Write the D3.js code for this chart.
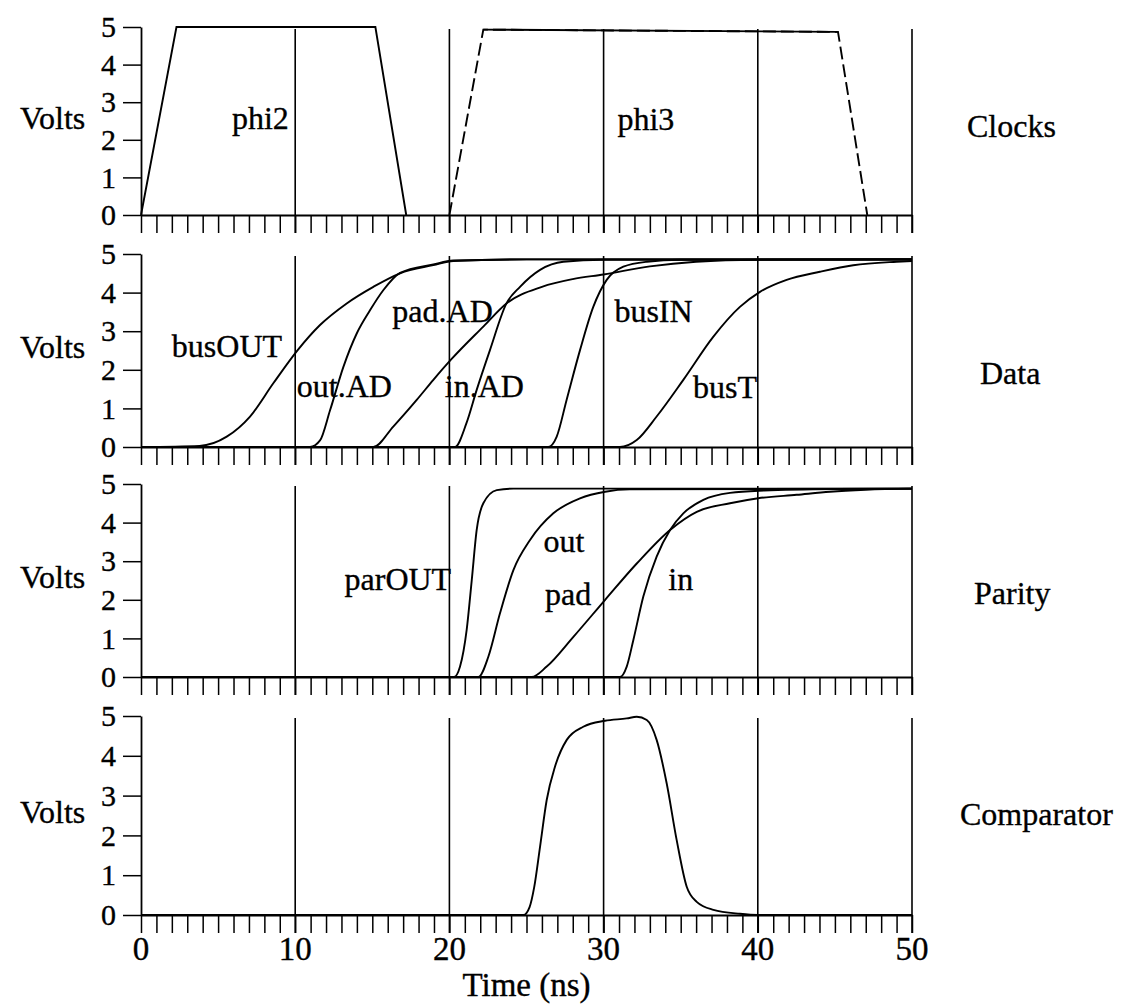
<!DOCTYPE html>
<html>
<head>
<meta charset="utf-8">
<script src="https://cdn.jsdelivr.net/npm/d3@7"></script>
<style>
  body { margin: 0; background: #fff; }
  svg text { font-family: "Liberation Serif", "Times New Roman", serif; fill: #000; stroke: #000; stroke-width: 0.35px; }
</style>
</head>
<body>
<div id="chart"></div>
<script>
// --------------------------------------
//  Data (time in ns, value in volts)
// --------------------------------------

const timeTicks = [0, 10, 20, 30, 40, 50];
const voltTicks = [0, 1, 2, 3, 4, 5];

// Clocks
const phi2 = [[0, 0], [2.3, 5], [15.2, 5], [17.2, 0]];
const phi3 = [[20, 0], [22.2, 4.93], [45.2, 4.87], [47.1, 0]];

// Data
const busOUT = [[0, 0], [3.8, 0.03], [5.56, 0.27], [7.07, 0.79], [8.58, 1.65], [10.16, 2.51], [11.61, 3.16],
  [13.34, 3.72], [15.07, 4.15], [16.8, 4.5], [18.96, 4.71], [20.25, 4.82], [25, 4.86], [50, 4.86]];
const outAD = [[0, 0], [10.96, 0], [11.61, 0.17], [12.26, 0.95], [13.12, 2.07], [13.99, 2.94], [14.85, 3.54],
  [15.71, 4.06], [16.8, 4.51], [18.96, 4.73], [20.25, 4.83], [25, 4.86], [50, 4.86]];
const padAD = [[0, 0], [15.07, 0], [16.36, 0.53], [17.88, 1.22], [18.96, 1.74], [20.19, 2.3], [22.2, 3.12],
  [23.7, 3.72], [26, 4.15], [28, 4.35], [30, 4.47], [33, 4.68], [36, 4.8], [40, 4.85], [50, 4.86]];
const inAD = [[0, 0], [20.36, 0], [21.1, 0.61], [21.77, 1.48], [22.63, 2.51], [23.7, 3.72], [24.58, 4.15],
  [25.88, 4.59], [27.39, 4.8], [30, 4.85], [50, 4.86]];
const busIN = [[0, 0], [26.41, 0], [26.96, 0.27], [27.6, 1.22], [28.47, 2.51], [29.33, 3.63], [30.2, 4.33],
  [31.28, 4.67], [32.8, 4.8], [35, 4.85], [50, 4.86]];
const busT = [[0, 0], [31.06, 0], [32.15, 0.18], [33.44, 0.79], [35.17, 1.74], [37.12, 2.86], [38.84, 3.63],
  [40.14, 4.02], [41.87, 4.33], [44.03, 4.54], [46.19, 4.71], [49, 4.8], [50, 4.82]];

// Parity
const parOUT = [[0, 0], [20.3, 0], [20.69, 0.27], [21.12, 1.22], [21.45, 2.51], [21.77, 3.81], [22.2, 4.5],
  [23.07, 4.84], [24.15, 4.88], [50, 4.88]];
const parOut = [[0, 0], [21.88, 0], [22.53, 0.53], [23.28, 1.65], [24.15, 2.77], [25.23, 3.55], [26.74, 4.24],
  [28.47, 4.63], [30.1, 4.8], [31.7, 4.86], [50, 4.88]];
const parPad = [[0, 0], [25.34, 0], [26.31, 0.27], [28.04, 1.04], [30.1, 2.0], [32.15, 2.94], [34.31, 3.81],
  [36.04, 4.28], [38.2, 4.5], [40.03, 4.63], [42.52, 4.72], [44.68, 4.8], [47, 4.85], [50, 4.88]];
const parIn = [[0, 0], [31.06, 0], [31.5, 0.27], [31.93, 0.96], [32.58, 2.09], [33.44, 3.12], [34.31, 3.81],
  [35.17, 4.24], [36.47, 4.59], [38.2, 4.77], [40.4, 4.83], [45, 4.87], [50, 4.88]];

// Comparator
const comparator = [[0, 0], [24.8, 0], [25.2, 0.2], [25.5, 0.7], [25.88, 1.72], [26.31, 2.89], [26.85, 3.73],
  [27.61, 4.4], [28.68, 4.73], [30.09, 4.88], [31.5, 4.94], [32.15, 4.98], [32.8, 4.9], [33.44, 4.4],
  [34.09, 3.31], [34.74, 1.88], [35.39, 0.71], [36.04, 0.33], [37.12, 0.13], [38.84, 0.03], [40, 0], [50, 0]];

// curve labels: [text, time, volts]
const clockLabels = [["phi2", 5.9, 2.3], ["phi3", 30.9, 2.25]];
const dataLabels = [["busOUT", 2.0, 2.33], ["out.AD", 10.1, 1.3], ["pad.AD", 16.3, 3.24],
  ["in.AD", 19.7, 1.3], ["busIN", 30.7, 3.24], ["busT", 35.8, 1.27]];
const parityLabels = [["parOUT", 13.2, 2.25], ["out", 26.1, 3.24], ["pad", 26.2, 1.87], ["in", 34.2, 2.25]];

// --------------------------------------
//  Canvas
// --------------------------------------

const width = 1122;
const height = 1008;

const svg = d3.select("#chart")
  .append("svg")
    .attr("width", width)
    .attr("height", height)
    .attr("viewBox", `0, 0, ${width}, ${height}`);

const x = d3.scaleLinear().domain([0, 50]).range([141, 912]);

const panels = [
  {title: "Clocks", top: 27, bottom: 215, titleX: 967, titleY: 137, linear: true,
   series: [{data: phi2}, {data: phi3, dashed: true}], labels: clockLabels},
  {title: "Data", top: 254, bottom: 447, titleX: 980, titleY: 384,
   series: [busOUT, outAD, padAD, inAD, busIN, busT].map(d => ({data: d})), labels: dataLabels},
  {title: "Parity", top: 484, bottom: 677, titleX: 974, titleY: 604,
   series: [parOUT, parOut, parPad, parIn].map(d => ({data: d})), labels: parityLabels},
  {title: "Comparator", top: 716, bottom: 915, titleX: 960, titleY: 825,
   series: [{data: comparator}], labels: []}
];

const tickLen = 18;
const serif = "'Liberation Serif', 'Times New Roman', serif";

// --------------------------------------
//  Panels
// --------------------------------------

panels.forEach((p, i) => {
  const y = d3.scaleLinear().domain([0, 5]).range([p.bottom, p.top]);
  const g = svg.append("g");

  // vertical lines every 10 ns
  g.selectAll("line.grid")
    .data(timeTicks.slice(1))
    .join("line")
      .attr("class", "grid")
      .attr("x1", d => x(d))
      .attr("x2", d => x(d))
      .attr("y1", y(5) + 2)
      .attr("y2", y(0) + tickLen)
      .attr("stroke", "#000")
      .attr("stroke-width", 1.6);

  // time axis, 1 ns ticks
  g.append("g")
    .attr("transform", `translate(0, ${y(0)})`)
    .call(d3.axisBottom(x).ticks(50).tickSize(tickLen).tickSizeOuter(0).tickFormat(""))
    .call(a => a.select(".domain").attr("stroke-width", 2))
    .call(a => a.selectAll(".tick line").attr("stroke-width", 1.5));

  // volts axis
  g.append("g")
    .attr("transform", `translate(${x(0)}, 0)`)
    .call(d3.axisLeft(y).tickValues(voltTicks).tickFormat(d3.format("d"))
      .tickSize(tickLen).tickSizeOuter(0).tickPadding(7))
    .call(a => a.select(".domain").attr("stroke-width", 1.8))
    .call(a => a.selectAll(".tick line").attr("stroke-width", 1.5))
    .call(a => a.selectAll(".tick text")
      .style("font-size", "30px")
      .style("font-family", serif));

  g.append("text")
    .attr("x", 20)
    .attr("y", y(2.3))
    .style("font-size", "32px")
    .text("Volts");

  g.append("text")
    .attr("x", p.titleX)
    .attr("y", p.titleY)
    .style("font-size", "32px")
    .text(p.title);

  // curves
  const line = d3.line()
    .x(d => x(d[0]))
    .y(d => y(d[1]))
    .curve(p.linear ? d3.curveLinear : d3.curveMonotoneX);

  p.series.forEach(s => {
    g.append("path")
      .attr("d", line(s.data))
      .attr("fill", "none")
      .attr("stroke", "#000")
      .attr("stroke-width", 1.9)
      .attr("stroke-dasharray", s.dashed ? "13,5" : null);
    if (s.dashed) {
      // flat top of the dashed clock drawn solid
      g.append("path")
        .attr("d", line(s.data.slice(1, -1)))
        .attr("fill", "none")
        .attr("stroke", "#000")
        .attr("stroke-width", 1.9);
    }
  });

  g.selectAll("text.lbl")
    .data(p.labels)
    .join("text")
      .attr("class", "lbl")
      .attr("x", d => x(d[1]))
      .attr("y", d => y(d[2]))
      .style("font-size", "32px")
      .text(d => d[0]);

  // time labels on the bottom panel
  if (i === panels.length - 1) {
    g.selectAll("text.xl")
      .data(timeTicks)
      .join("text")
        .attr("class", "xl")
        .attr("x", d => x(d))
        .attr("y", 960)
        .attr("text-anchor", "middle")
        .style("font-size", "33px")
        .text(d => d);

    g.append("text")
      .attr("x", x(25))
      .attr("y", 996)
      .attr("text-anchor", "middle")
      .style("font-size", "33px")
      .text("Time (ns)");
  }
});
</script>
</body>
</html>
